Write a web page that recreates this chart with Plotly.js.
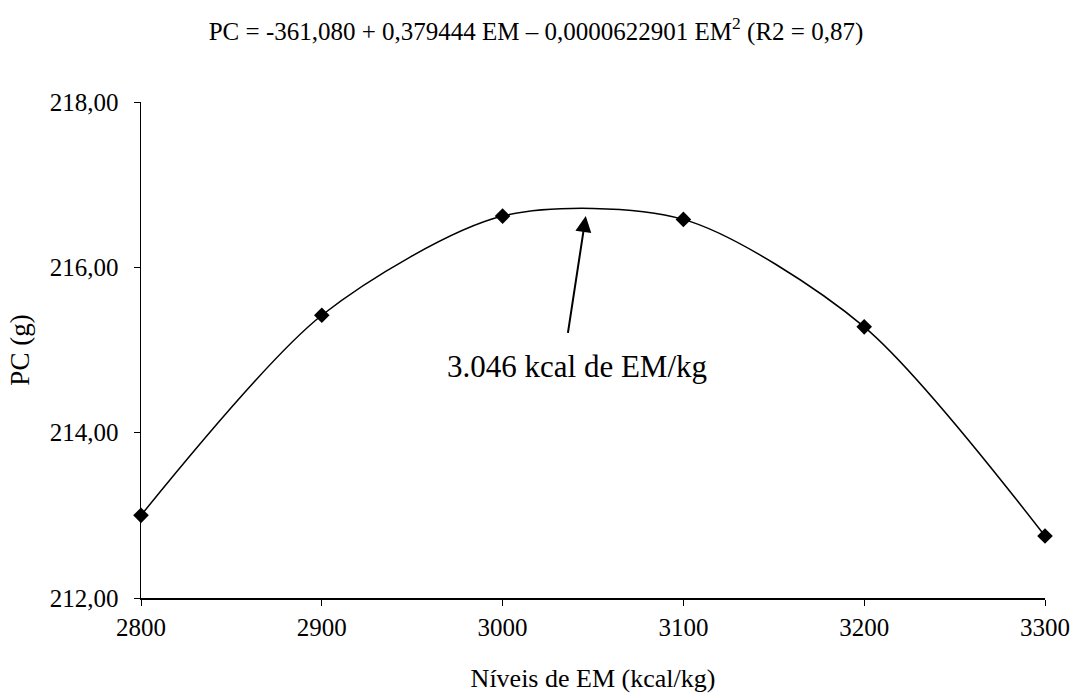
<!DOCTYPE html>
<html>
<head>
<meta charset="utf-8">
<script src="https://cdn.plot.ly/plotly-3.0.1.min.js"></script>
<style>html,body{margin:0;padding:0;background:#fff;}#chart{width:1072px;height:693px;}</style>
</head>
<body>
<div id="chart"></div>
<script>
const emLevels = [2800, 2900, 3000, 3100, 3200, 3300];
const pcValues = [213.00, 215.42, 216.62, 216.58, 215.28, 212.75];
const yTicks = [212, 214, 216, 218];
const xTicks = [2800, 2900, 3000, 3100, 3200, 3300];
const titleText = 'PC = -361,080 + 0,379444 EM \u2013 0,0000622901 EM<sup>2</sup> (R2 = 0,87)';
const annotText = '3.046 kcal de EM/kg';
const optimumEM = 3046;
const optimumPC = 216.62;

const serif = 'Liberation Serif';

const traces = [{
  x: emLevels, y: pcValues, type: 'scatter', mode: 'lines+markers',
  line: {color: '#000', width: 1.5, shape: 'spline', smoothing: 0.8},
  marker: {symbol: 'diamond', size: 12, color: '#000'},
  cliponaxis: false, showlegend: false, hoverinfo: 'x+y'
}];

const layout = {
  width: 1072, height: 693,
  paper_bgcolor: '#fff', plot_bgcolor: '#fff',
  margin: {l: 141, r: 27, t: 102, b: 95},
  separators: ',.',
  font: {family: serif, color: '#000', size: 25},
  title: {text: titleText, font: {family: serif, size: 25, color: '#000'},
          x: 0.5, xanchor: 'center', xref: 'container', y: 1 - 31/693, yref: 'container', yanchor: 'middle'},
  xaxis: {range: [2800, 3300], tickvals: xTicks, tickformat: 'd',
          showline: true, linecolor: '#000', linewidth: 1.5, ticks: 'outside', ticklen: 6, tickcolor: '#000',
          showgrid: false, zeroline: false, tickfont: {family: serif, size: 25, color: '#000'},
          title: {text: 'Níveis de EM (kcal/kg)', font: {family: serif, size: 26, color: '#000'}, standoff: 30}},
  yaxis: {range: [212, 218], tickvals: yTicks, tickformat: '.2f',
          showline: true, linecolor: '#000', linewidth: 1.5, ticks: 'outside', ticklen: 6, tickcolor: '#000',
          ticklabelstandoff: 10,
          showgrid: false, zeroline: false, tickfont: {family: serif, size: 25, color: '#000'},
          title: {text: 'PC (g)', font: {family: serif, size: 27, color: '#000'}, standoff: 12}},
  annotations: [
    {x: optimumEM, y: optimumPC, xref: 'x', yref: 'y', ax: 3036, ay: 215.19, axref: 'x', ayref: 'y',
     text: '', showarrow: true, arrowhead: 2, arrowsize: 1.6, arrowwidth: 2, arrowcolor: '#000'},
    {x: 3041, y: 214.80, xref: 'x', yref: 'y', text: annotText, showarrow: false,
     font: {family: serif, size: 31, color: '#000'}, xanchor: 'center', yanchor: 'middle'}
  ]
};

Plotly.newPlot('chart', traces, layout, {displayModeBar: false, staticPlot: true});
</script>
</body>
</html>
